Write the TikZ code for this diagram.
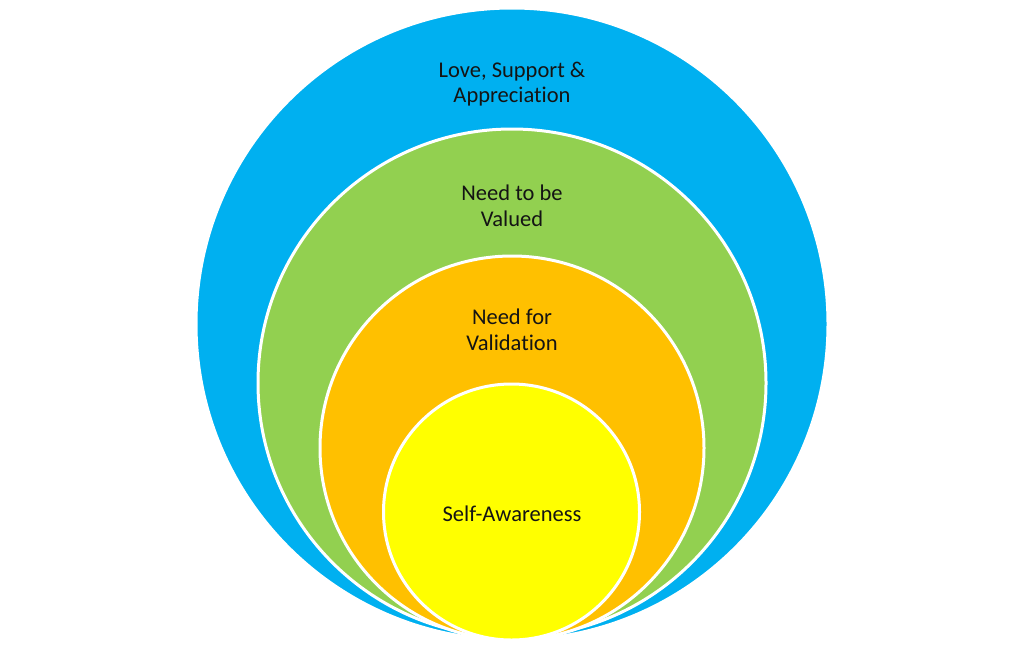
\documentclass[tikz,border=0pt]{standalone}
\usepackage{fontspec}
\setmainfont[Ligatures=NoCommon]{Carlito}
\definecolor{cblue}{HTML}{00B0F0}
\definecolor{cgreen}{HTML}{92D050}
\definecolor{corange}{HTML}{FFC000}
\definecolor{cyellow}{HTML}{FFFF00}
\definecolor{ctext}{HTML}{141414}
\begin{document}
\begin{tikzpicture}[x=1pt,y=-1pt,
  ring/.style={draw=white,line width=3pt},
  lbl/.style={font=\fontsize{22.5}{25.5}\selectfont,text=ctext,align=center}]
\fill[white] (0,0) rectangle (1011,659);
\useasboundingbox (0,0) rectangle (1011,659);
\draw[ring,fill=cblue] (512,324) circle[radius=316];
\draw[ring,fill=cgreen] (512,383) circle[radius=254];
\draw[ring,fill=corange] (512,448) circle[radius=192];
\draw[ring,fill=cyellow] (511.5,512) circle[radius=128];
\node[lbl] (t1) at (512,84) {Love, Support \&\\Appreciation};
\node[lbl] (t2) at (512,206) {Need to be\\Valued};
\node[lbl] (t3) at (512,330) {Need for\\Validation};
\node[lbl] (t4) at (512,514) {Self-Awareness};
\end{tikzpicture}
\end{document}
